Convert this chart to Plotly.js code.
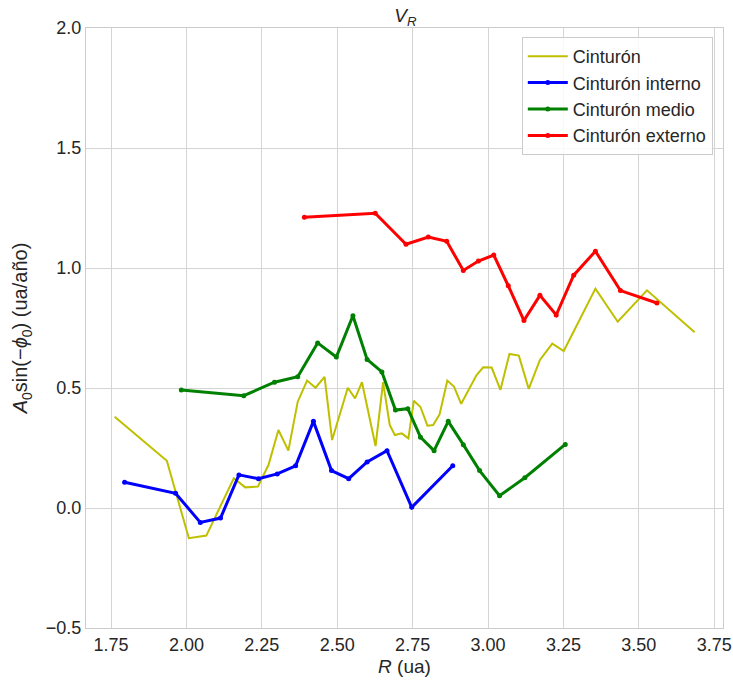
<!DOCTYPE html>
<html>
<head>
<meta charset="utf-8">
<script src="https://cdn.plot.ly/plotly-3.0.1.min.js"></script>
<style>html,body{margin:0;padding:0;background:#fff;}#chart{width:733px;height:687px;}</style>
</head>
<body>
<div id="chart"></div>
<script>
// Cinturón (full belt, no markers)
const beltR = [1.762, 1.935, 2.008, 2.066, 2.157, 2.195, 2.237, 2.272, 2.305, 2.338, 2.369, 2.400, 2.428, 2.458, 2.483, 2.535, 2.559, 2.582, 2.627, 2.652, 2.674, 2.691, 2.714, 2.736, 2.754, 2.776, 2.799, 2.818, 2.839, 2.865, 2.887, 2.911, 2.962, 2.984, 3.012, 3.041, 3.071, 3.102, 3.135, 3.172, 3.213, 3.251, 3.356, 3.430, 3.527, 3.685];
const beltV = [0.380, 0.197, -0.126, -0.115, 0.124, 0.086, 0.089, 0.179, 0.325, 0.239, 0.443, 0.531, 0.501, 0.546, 0.283, 0.501, 0.457, 0.524, 0.258, 0.524, 0.346, 0.304, 0.311, 0.290, 0.447, 0.421, 0.343, 0.346, 0.389, 0.531, 0.506, 0.434, 0.554, 0.586, 0.585, 0.492, 0.642, 0.635, 0.496, 0.617, 0.685, 0.654, 0.914, 0.776, 0.907, 0.732];

// Cinturón interno
const innerR = [1.795, 1.964, 2.046, 2.113, 2.174, 2.239, 2.301, 2.362, 2.421, 2.481, 2.538, 2.599, 2.665, 2.747, 2.883];
const innerV = [0.107, 0.061, -0.060, -0.042, 0.138, 0.122, 0.142, 0.176, 0.361, 0.156, 0.122, 0.192, 0.239, 0.003, 0.176];

// Cinturón medio
const midR = [1.983, 2.190, 2.292, 2.369, 2.435, 2.497, 2.552, 2.599, 2.648, 2.693, 2.734, 2.776, 2.821, 2.868, 2.918, 2.972, 3.038, 3.122, 3.256];
const midV = [0.492, 0.468, 0.524, 0.547, 0.688, 0.629, 0.801, 0.619, 0.567, 0.408, 0.414, 0.295, 0.239, 0.361, 0.264, 0.156, 0.051, 0.126, 0.265];

// Cinturón externo
const outerR = [2.391, 2.626, 2.728, 2.802, 2.863, 2.918, 2.968, 3.019, 3.067, 3.119, 3.172, 3.226, 3.284, 3.356, 3.439, 3.560];
const outerV = [1.211, 1.228, 1.099, 1.129, 1.111, 0.990, 1.029, 1.054, 0.926, 0.781, 0.886, 0.804, 0.970, 1.070, 0.906, 0.854];

const xTicks = [1.75, 2.00, 2.25, 2.50, 2.75, 3.00, 3.25, 3.50, 3.75];
const xTickText = ["1.75", "2.00", "2.25", "2.50", "2.75", "3.00", "3.25", "3.50", "3.75"];
const yTicks = [-0.5, 0.0, 0.5, 1.0, 1.5, 2.0];
const yTickText = ["\u22120.5", "0.0", "0.5", "1.0", "1.5", "2.0"];

const FONT = "Liberation Sans, Arial, sans-serif";
const TXT = "#262626";

const traces = [
  {x: beltR, y: beltV, name: "Cinturón", mode: "lines", line: {color: "#bfbf00", width: 2}},
  {x: innerR, y: innerV, name: "Cinturón interno", mode: "lines+markers", line: {color: "#0000ff", width: 3}, marker: {color: "#0000ff", size: 5}},
  {x: midR, y: midV, name: "Cinturón medio", mode: "lines+markers", line: {color: "#008000", width: 3}, marker: {color: "#008000", size: 5}},
  {x: outerR, y: outerV, name: "Cinturón externo", mode: "lines+markers", line: {color: "#ff0000", width: 3}, marker: {color: "#ff0000", size: 5}}
];

const layout = {
  width: 733, height: 687,
  margin: {l: 86, r: 10, t: 28, b: 59},
  paper_bgcolor: "#ffffff", plot_bgcolor: "#ffffff",
  font: {family: FONT, color: TXT, size: 18},
  title: {text: "<i>V</i><sub><i>R</i></sub>", x: 0.553, xanchor: "center", y: 0.977, yanchor: "middle", font: {family: FONT, size: 19, color: TXT}},
  xaxis: {
    range: [1.667, 3.779], tickvals: xTicks, ticktext: xTickText,
    showgrid: true, gridcolor: "#d4d4d4", gridwidth: 1,
    showline: true, mirror: true, linecolor: "#cccccc", linewidth: 1,
    zeroline: false, ticks: "", ticklen: 0,
    tickfont: {family: FONT, size: 18, color: TXT},
    title: {text: "<i>R</i> (ua)", font: {family: FONT, size: 19, color: TXT}, standoff: 6}
  },
  yaxis: {
    range: [-0.5, 2.0], tickvals: yTicks, ticktext: yTickText,
    showgrid: true, gridcolor: "#d4d4d4", gridwidth: 1,
    showline: true, mirror: true, linecolor: "#cccccc", linewidth: 1,
    zeroline: false, ticks: "", ticklen: 0,
    tickfont: {family: FONT, size: 18, color: TXT},
    title: {text: "<i>A</i><sub>0</sub>sin(\u2212<i>\u03d5</i><sub>0</sub>) (ua/año)", font: {family: FONT, size: 20, color: TXT}, standoff: 12}
  },
  showlegend: true,
  legend: {
    x: 0.984, xanchor: "right", y: 0.985, yanchor: "top",
    bgcolor: "rgba(255,255,255,0.85)", bordercolor: "#cccccc", borderwidth: 1,
    font: {family: FONT, size: 18, color: TXT},
    itemwidth: 40, tracegroupgap: 0
  }
};

Plotly.newPlot("chart", traces, layout, {displayModeBar: false, staticPlot: true});
</script>
</body>
</html>
